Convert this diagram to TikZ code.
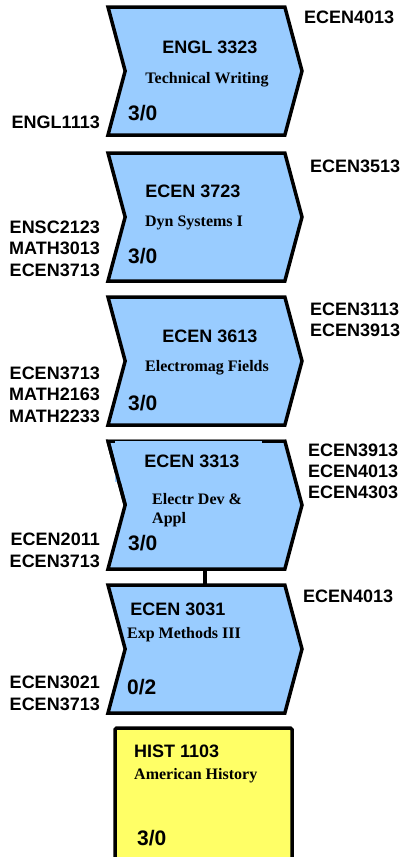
\documentclass[tikz,border=0pt]{standalone}
\usepackage{fontspec}
\setmainfont{Liberation Serif}
\setsansfont{Liberation Sans}
\usepackage{tikz}
\usetikzlibrary{shapes.symbols}
\usetikzlibrary{positioning}

\definecolor{courseblue}{HTML}{99CCFF}
\definecolor{courseyellow}{HTML}{FFFF66}

\begin{document}
\begin{tikzpicture}
    [
    x=1pt,y=-1pt,
    course/.style={signal,signal from=west,signal to=east,signal pointer angle=150,draw,line width=3.5pt,fill=courseblue,minimum width=194pt,minimum height=128pt,inner sep=0pt,outer sep=0pt},
    histbox/.style={rectangle,draw,line width=3.5pt,fill=courseyellow,rounded corners=1.5pt,minimum width=177pt,minimum height=134pt,inner sep=0pt},
    num/.style={font=\sffamily\bfseries\fontsize{18}{20}\selectfont,inner sep=0pt,anchor=base},
    title/.style={font=\rmfamily\bfseries\fontsize{16}{19}\selectfont,inner sep=0pt,anchor=base},
    hours/.style={font=\sffamily\bfseries\fontsize{21}{22}\selectfont,inner sep=0pt,anchor=base west},
    prereq/.style={font=\sffamily\bfseries\fontsize{18}{21.5}\selectfont,inner sep=0pt,align=right,anchor=base east},
    postreq/.style={font=\sffamily\bfseries\fontsize{18}{21}\selectfont,inner sep=0pt,align=left,anchor=base west},
    ]
    \useasboundingbox (0,0) rectangle (407,857);

    \node (c1) at (205,71) [course] {};
    \node (c2) at (205,217) [course] {};
    \node (c3) at (205,361) [course] {};
    \node (c4) at (205,505) [course] {};
    \node (c5) at (205,649) [course] {};
    \node (h1) at (203.5,795) [histbox] {};
    \draw [line width=3.5pt] (c4.south) to (c5.north);

    % patch over the top edge of ECEN 3313
    \fill [courseblue] (115,440.5) rectangle (262,482);
    \draw [gray,line width=0.8pt] (108,439.5) to (285,439.5);
    \draw [line width=3.5pt] (108,441) to (125.2,505);

    \node (n1) at (210,53) [num] {ENGL 3323};
    \node (t1) at (207,83) [title] {Technical Writing};
    \node (u1) at (128,120) [hours] {3/0};
    \node (p1) at (100,128) [prereq] {ENGL1113};
    \node (f1) at (304,23) [postreq] {ECEN4013};

    \node (n2) at (193,197) [num] {ECEN 3723};
    \node (t2) at (194,226) [title] {Dyn Systems I};
    \node (u2) at (128,263) [hours] {3/0};
    \node (p2) at (100,276) [prereq] {ENSC2123\\MATH3013\\ECEN3713};
    \node (f2) at (310,172) [postreq] {ECEN3513};

    \node (n3) at (210,342) [num] {ECEN 3613};
    \node (t3) at (207,371) [title] {Electromag Fields};
    \node (u3) at (128,410) [hours] {3/0};
    \node (p3) at (100,422) [prereq] {ECEN3713\\MATH2163\\MATH2233};
    \node (f3) at (310,336) [postreq] {ECEN3113\\ECEN3913};

    \node (n4) at (192,467) [num] {ECEN 3313};
    \node (t4) at (152,523) [title,anchor=base west,align=left] {Electr Dev \&\\Appl};
    \node (u4) at (128,550) [hours] {3/0};
    \node (p4) at (100,567) [prereq] {ECEN2011\\ECEN3713};
    \node (f4) at (308,498) [postreq] {ECEN3913\\ECEN4013\\ECEN4303};

    \node (n5) at (178,615) [num] {ECEN 3031};
    \node (t5) at (184,638) [title] {Exp Methods III};
    \node (u5) at (127,694) [hours] {0/2};
    \node (p5) at (100,710) [prereq] {ECEN3021\\ECEN3713};
    \node (f5) at (303,602) [postreq] {ECEN4013};

    \node (n6) at (134,757) [num,anchor=base west] {HIST 1103};
    \node (t6) at (134,779) [title,anchor=base west] {American History};
    \node (u6) at (137,845) [hours] {3/0};
  \end{tikzpicture}
\end{document}
